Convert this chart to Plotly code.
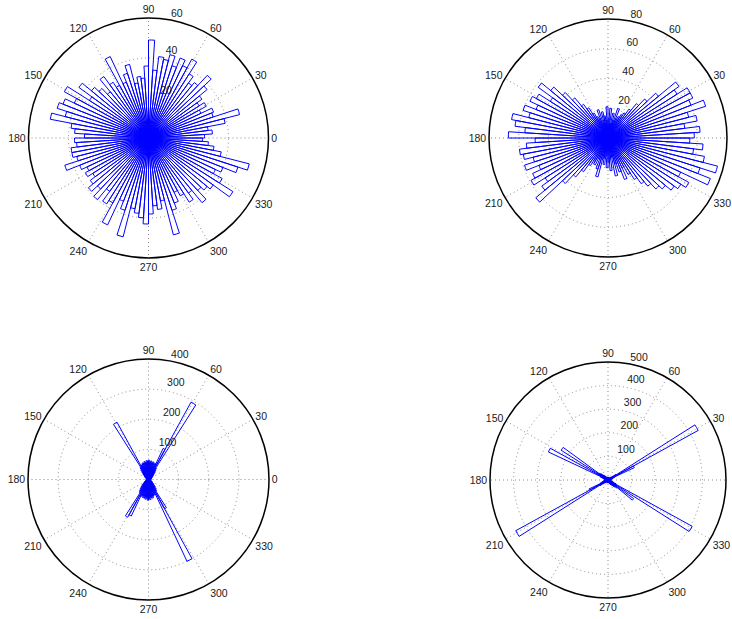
import plotly.graph_objects as go

# ---- data (100 bins, 3.6 degrees each) ----
bin_centers = [1.8 + 3.6 * i for i in range(100)]

counts_a = [28, 32, 30, 39, 47, 34, 35, 29, 33, 30,
            33, 38, 43, 36, 34, 38, 45, 40, 43, 38,
            43, 40, 41, 34, 49, 36, 30, 31, 28, 38,
            34, 30, 45, 30, 33, 38, 30, 34, 37, 43,
            35, 48, 41, 46, 48, 43, 50, 39, 37, 32,
            37, 36, 39, 39, 37, 44, 37, 34, 36, 33,
            36, 39, 35, 40, 33, 39, 37, 48, 34, 38,
            51, 36, 38, 40, 43, 38, 34, 36, 32, 50,
            38, 35, 30, 33, 38, 34, 42, 36, 38, 40,
            50, 42, 37, 40, 47, 52, 37, 33, 30, 27]

counts_b = [58, 62, 52, 61, 56, 69, 60, 63, 63, 55,
            59, 44, 36, 30, 24, 20, 18, 16, 14, 21,
            12, 17, 10, 20, 13, 21, 12, 15, 18, 11,
            20, 14, 16, 19, 24, 28, 35, 42, 50, 58,
            46, 55, 58, 52, 60, 55, 66, 63, 56, 67,
            49, 55, 60, 58, 52, 59, 50, 56, 59, 50,
            55, 63, 42, 34, 28, 22, 18, 20, 15, 22,
            27, 14, 18, 12, 20, 16, 22, 13, 26, 18,
            24, 30, 22, 28, 33, 38, 42, 47, 50, 55,
            58, 62, 54, 74, 65, 76, 66, 58, 64, 55]

counts_c = [8, 6, 9, 7, 10, 8, 11, 12, 14, 16,
            18, 22, 26, 32, 38, 45, 293, 114, 58, 55,
            60, 57, 62, 58, 64, 60, 63, 57, 61, 56,
            58, 54, 52, 217, 48, 40, 32, 25, 20, 16,
            13, 11, 9, 8, 7, 9, 6, 8, 7, 6,
            8, 7, 9, 6, 8, 7, 10, 12, 15, 18,
            22, 27, 34, 40, 47, 52, 143, 134, 60, 58,
            63, 61, 66, 62, 69, 64, 67, 60, 63, 58,
            55, 50, 300, 111, 46, 40, 33, 27, 22, 17,
            14, 12, 10, 9, 7, 8, 6, 9, 7, 8]

counts_d = [8, 10, 12, 15, 18, 22, 30, 123, 436, 40,
            25, 18, 14, 12, 10, 9, 8, 10, 9, 12,
            10, 11, 9, 12, 10, 13, 9, 11, 10, 12,
            9, 11, 13, 15, 18, 22, 26, 30, 38, 45,
            235, 52, 279, 36, 24, 18, 14, 11, 9, 8,
            10, 12, 15, 18, 22, 28, 36, 89, 446, 40,
            26, 18, 14, 11, 9, 10, 8, 11, 9, 12,
            10, 13, 9, 11, 10, 12, 9, 11, 10, 13,
            12, 15, 18, 22, 26, 30, 36, 42, 50, 134,
            45, 407, 38, 26, 20, 16, 13, 11, 9, 8]

angle_ticks = [0, 30, 60, 90, 120, 150, 180, 210, 240, 270, 300, 330]
radial_ticks_a = [20, 40, 60]
radial_ticks_b = [20, 40, 60, 80]
radial_ticks_c = [100, 200, 300, 400]
radial_ticks_d = [100, 200, 300, 400, 500]

W, H = 732, 619
FONT = dict(family="Liberation Sans, Arial, sans-serif", size=10.5, color="#1a1a1a")

def dom(cx, cy, r):
    return dict(x=[(cx - r) / W, (cx + r) / W],
                y=[1 - (cy + r) / H, 1 - (cy - r) / H])

# (subplot, counts, radial ticks, domain, show the "0" label - it falls off the page on the right)
panels = [
    ("polar", counts_a, radial_ticks_a, dom(148.5, 138, 120), True),
    ("polar2", counts_b, radial_ticks_b, dom(608, 138, 119), False),
    ("polar3", counts_c, radial_ticks_c, dom(148.5, 479.5, 120.5), True),
    ("polar4", counts_d, radial_ticks_d, dom(608, 480, 118), False),
]

fig = go.Figure()
layout = dict(width=W, height=H, margin=dict(l=0, r=0, t=0, b=0),
              paper_bgcolor="white", showlegend=False, font=FONT)

for name, counts, rticks, d, show_zero in panels:
    rmax = rticks[-1]
    rinc = rticks[1] - rticks[0]
    # rose bars
    fig.add_trace(go.Barpolar(
        r=counts, theta=bin_centers, width=[3.6] * len(counts),
        subplot=name,
        marker=dict(color="rgba(0,0,0,0)", line=dict(color="#0000ff", width=1)),
        hoverinfo="skip",
    ))
    # radial labels (MATLAB polar style: at 82 deg, just beyond each ring)
    fig.add_trace(go.Scatterpolar(
        r=[min(t + rinc / 20, rmax) for t in rticks], theta=[82] * len(rticks),
        text=["  " + str(t) for t in rticks], mode="text",
        textposition="top right", textfont=FONT,
        subplot=name, cliponaxis=False, hoverinfo="skip",
    ))
    ang_text = [str(a) if (a != 0 or show_zero) else "" for a in angle_ticks]
    layout[name] = dict(
        domain=d,
        bgcolor="white",
        angularaxis=dict(
            direction="counterclockwise", rotation=0,
            tickmode="array", tickvals=angle_ticks,
            ticktext=ang_text, tickfont=FONT,
            ticks="", showline=True, linecolor="black", linewidth=1.5,
            showgrid=True, gridcolor="#8c8c8c", griddash="1px,3px", gridwidth=1,
        ),
        radialaxis=dict(
            range=[0, rmax], tickmode="array", tickvals=rticks,
            showticklabels=False, showline=False, ticks="",
            showgrid=True, gridcolor="#8c8c8c", griddash="1px,3px", gridwidth=1,
        ),
    )

fig.update_layout(**layout)
fig.write_html("out.html", config={"displayModeBar": False},
               post_script="document.body.style.margin='0px';")
